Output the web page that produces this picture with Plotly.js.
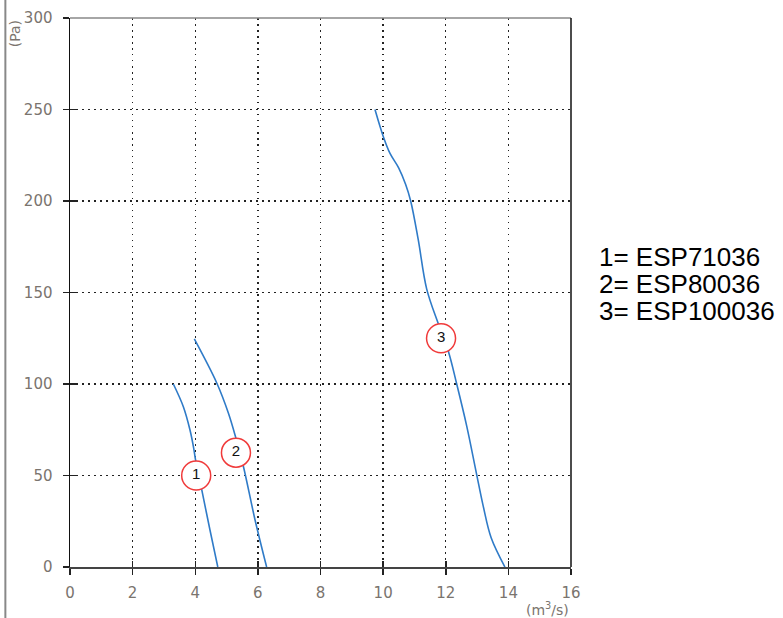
<!DOCTYPE html>
<html>
<head>
<meta charset="utf-8">
<script src="https://cdn.plot.ly/plotly-3.0.1.min.js"></script>
<style>html,body{margin:0;padding:0;background:#fff;}#chart{width:783px;height:618px;}</style>
</head>
<body>
<div id="chart"></div>
<script>
// Curve 1 (ESP71036)
const curve1X = [3.30, 3.62, 3.83, 3.95, 4.01, 4.21, 4.47, 4.72];
const curve1Y = [100, 87.6, 75, 65, 58.5, 42, 20.2, 0];
// Curve 2 (ESP80036)
const curve2X = [3.97, 4.69, 5.06, 5.30, 5.54, 5.91, 6.28];
const curve2Y = [124.6, 100.4, 84, 70.3, 54.8, 25.7, 0];
// Curve 3 (ESP100036)
const curve3X = [9.74, 10.01, 10.22, 10.50, 10.72, 10.88, 11.12, 11.39, 11.76, 12.08, 12.35, 12.67, 12.97, 13.20, 13.45, 13.89];
const curve3Y = [250, 235, 226, 218, 209, 200, 179, 152, 133, 118, 100, 77, 52, 33, 16, 0];
// Curve labels
const labelText = ["1", "2", "3"];
const labelX = [4.03, 5.30, 11.85];
const labelY = [50, 62.5, 125];
// Legend text
const legendLines = ["1= ESP71036", "2= ESP80036", "3= ESP100036"];
const legendPos = [0.5647, 0.5155, 0.4663];
// Axis ticks
const xTicks = [0, 2, 4, 6, 8, 10, 12, 14, 16];
const yTicks = [0, 50, 100, 150, 200, 250, 300];

const blue = "#2f7bc8";
const lineStyle = {color: blue, width: 1.6, shape: "spline", smoothing: 1};
const traces = [
  {x: curve1X, y: curve1Y, mode: "lines", line: lineStyle, hoverinfo: "skip"},
  {x: curve2X, y: curve2Y, mode: "lines", line: lineStyle, hoverinfo: "skip"},
  {x: curve3X, y: curve3Y, mode: "lines", line: lineStyle, hoverinfo: "skip"},
  {x: labelX, y: labelY, mode: "markers+text", text: labelText, textposition: "middle center",
   textfont: {family: "Liberation Sans, Arial", size: 15, color: "#111"},
   marker: {size: 29, color: "#fff", line: {color: "#f03a3a", width: 1.5}}, hoverinfo: "skip"},
  {x: [0], y: [0], xaxis: "x2", yaxis: "y2", mode: "markers", marker: {opacity: 0}, hoverinfo: "skip"}
];

const tickFont = {family: "DejaVu Sans", size: 15, color: "#7a746e"};
const gridDash = "1.5px,4.5px";
const layout = {
  width: 783, height: 618,
  margin: {l: 70, r: 212, t: 18, b: 51},
  paper_bgcolor: "#fff", plot_bgcolor: "#fff",
  showlegend: false,
  xaxis: {range: [0, 16], tickvals: xTicks, ticktext: xTicks.map(String), tickfont: tickFont,
          showgrid: true, gridcolor: "#222", griddash: gridDash, gridwidth: 1.3,
          zeroline: false, showline: true, linecolor: "#444", linewidth: 1.5,
          ticks: "outside", ticklen: 6, tickwidth: 1.5, tickcolor: "#222", ticklabelstandoff: 5},
  yaxis: {range: [0, 300], tickvals: yTicks, ticktext: yTicks.map(String), tickfont: tickFont,
          showgrid: true, gridcolor: "#222", griddash: gridDash, gridwidth: 1.3,
          zeroline: false, showline: true, linecolor: "#111", linewidth: 1.5,
          ticks: "outside", ticklen: 6, tickwidth: 1.5, tickcolor: "#222", ticklabelstandoff: 7},
  xaxis2: {range: [0, 16], overlaying: "x", tickvals: xTicks, showticklabels: false, showgrid: false,
           zeroline: false, ticks: "inside", ticklen: 6, tickwidth: 1.5, tickcolor: "#222", side: "bottom"},
  yaxis2: {range: [0, 300], overlaying: "y", tickvals: yTicks, showticklabels: false, showgrid: false,
           zeroline: false, ticks: "inside", ticklen: 6, tickwidth: 1.5, tickcolor: "#222", side: "left"},
  shapes: [
    {type: "line", xref: "paper", yref: "paper", x0: 0, x1: 1, y0: 1, y1: 1, line: {color: "#888", width: 1.5}},
    {type: "line", xref: "paper", yref: "paper", x0: 1, x1: 1, y0: 0, y1: 1, line: {color: "#111", width: 1.5}},
    {type: "line", xref: "paper", yref: "paper", x0: -0.129, x1: -0.129, y0: -0.093, y1: 1.033, line: {color: "#888", width: 2}}
  ],
  annotations: [
    {text: "(Pa)", xref: "paper", yref: "paper", x: -0.11, y: 0.972, textangle: -90, showarrow: false,
     font: {family: "DejaVu Sans", size: 14, color: "#7a746e"}, xanchor: "center", yanchor: "middle"},
    {text: "(m<sup>3</sup>/s)", xref: "paper", yref: "paper", x: 0.954, y: -0.0765, showarrow: false,
     font: {family: "DejaVu Sans", size: 14, color: "#7a746e"}, xanchor: "center", yanchor: "middle"}
  ].concat(legendLines.map((t, i) => ({
     text: t, xref: "paper", yref: "paper", x: 1.052, y: legendPos[i], showarrow: false,
     align: "left", xanchor: "left", yanchor: "middle",
     font: {family: "Liberation Sans, Arial", size: 26, color: "#000"}})))
};
Plotly.newPlot("chart", traces, layout, {staticPlot: true, displayModeBar: false});
</script>
</body>
</html>
